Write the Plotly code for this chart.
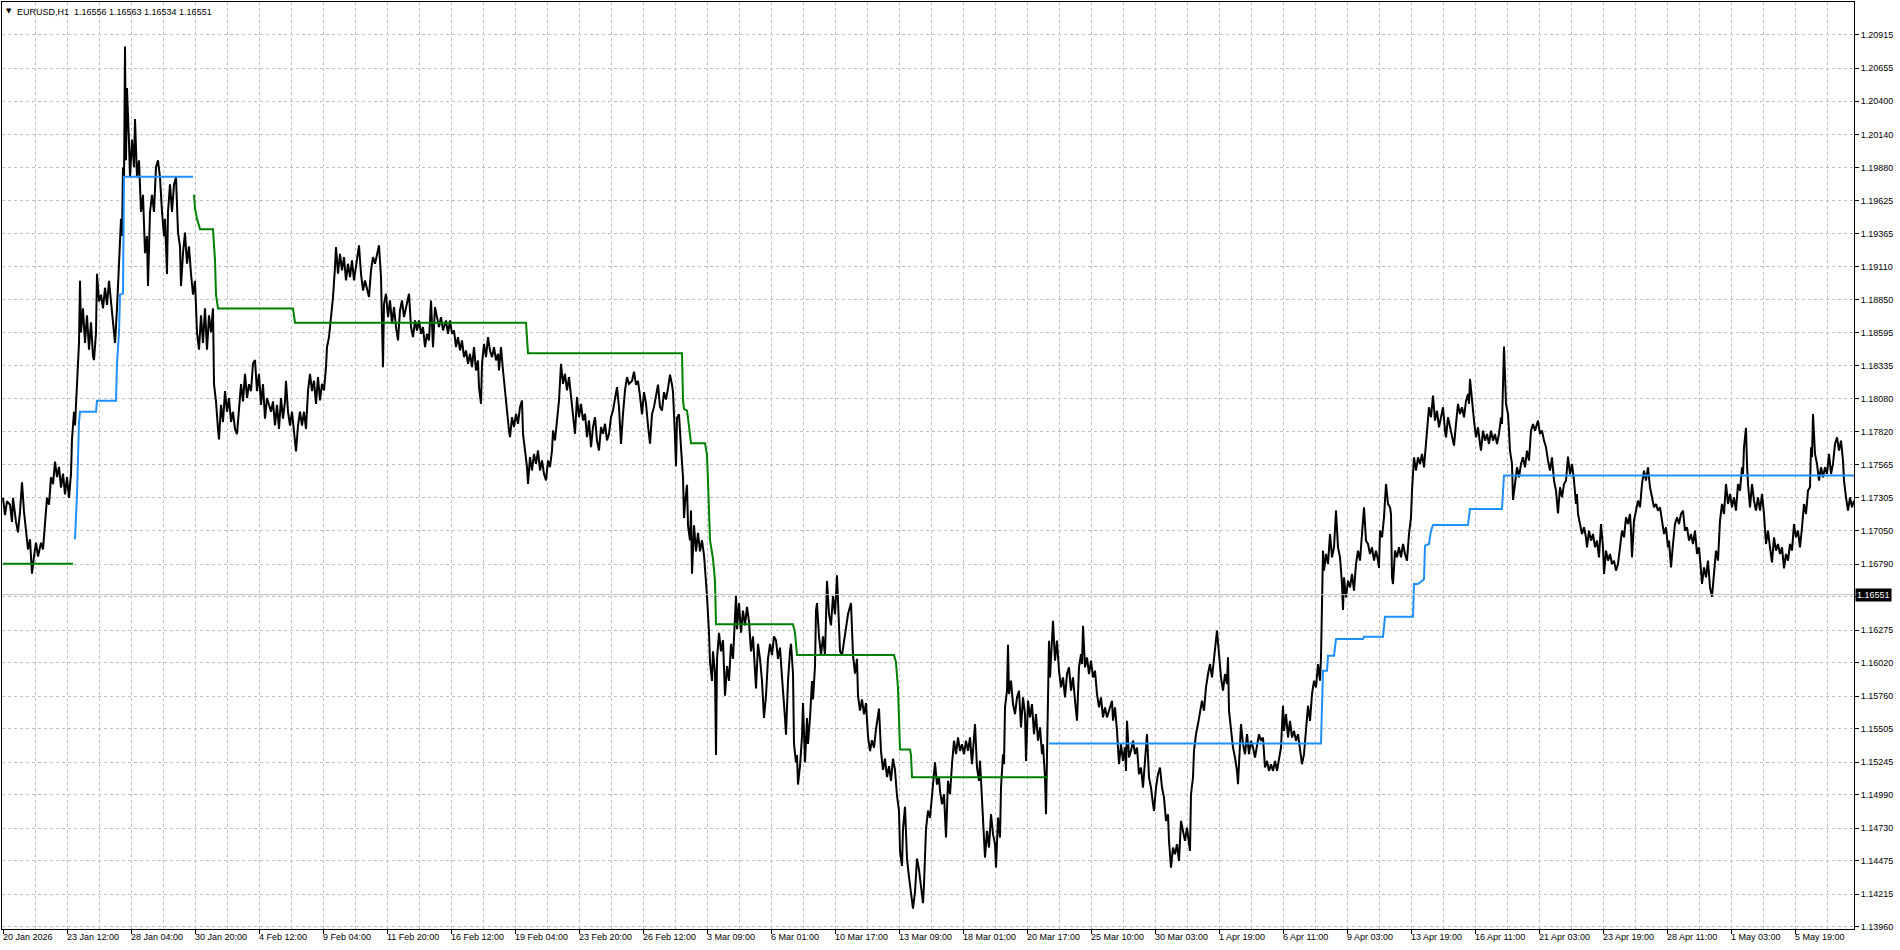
import plotly.graph_objects as go

# ---------------- data ----------------
SYMBOL = "EURUSD"
TIMEFRAME = "H1"
last_ohlc = [1.16556, 1.16563, 1.16534, 1.16551]
current_price = 1.16551

time_labels = ["20 Jan 2026", "23 Jan 12:00", "28 Jan 04:00", "30 Jan 20:00", "4 Feb 12:00",
               "9 Feb 04:00", "11 Feb 20:00", "16 Feb 12:00", "19 Feb 04:00", "23 Feb 20:00",
               "26 Feb 12:00", "3 Mar 09:00", "6 Mar 01:00", "10 Mar 17:00", "13 Mar 09:00",
               "18 Mar 01:00", "20 Mar 17:00", "25 Mar 10:00", "30 Mar 03:00", "1 Apr 19:00",
               "6 Apr 11:00", "9 Apr 03:00", "13 Apr 19:00", "16 Apr 11:00", "21 Apr 03:00",
               "23 Apr 19:00", "28 Apr 11:00", "1 May 03:00", "5 May 19:00"]
bars_per_label = 64
bars_per_grid = 32
n_bars = 1852

price_ticks = [1.20915, 1.20655, 1.20400, 1.20140, 1.19880, 1.19625, 1.19365, 1.19110,
               1.18850, 1.18595, 1.18335, 1.18080, 1.17820, 1.17565, 1.17305, 1.17050,
               1.16790, 1.16535, 1.16275, 1.16020, 1.15760, 1.15505, 1.15245, 1.14990,
               1.14730, 1.14475, 1.14215, 1.13960]
hidden_tick = 1.16535
price_min = 1.13944
price_max = 1.21172

# price path (bar index, price) following the highs and lows of the H1 bars
path_bar = [
    0, 2, 4, 7, 9, 10, 13, 15, 17, 19, 21, 23, 25, 27, 29, 31, 33, 35, 38, 40, 42, 44, 46, 48, 50,
    52, 54, 56, 58, 60, 62, 64, 66, 68, 69, 71, 72, 74, 75, 76, 77, 78, 80, 82, 84, 86, 88, 90, 91,
    93, 94, 96, 98, 100, 102, 104, 106, 108, 110, 112, 114, 116, 118, 119, 120, 121, 122, 123, 124,
    126, 127, 129, 131, 132, 134, 136, 138, 140, 142, 144, 145, 147, 149, 151, 153, 155, 157, 159,
    161, 162, 164, 165, 167, 169, 171, 173, 175, 177, 178, 180, 182, 184, 186, 188, 190, 192, 194,
    196, 198, 200, 202, 204, 206, 208, 210, 211, 213, 215, 216, 218, 220, 222, 224, 226, 228, 230,
    232, 234, 236, 238, 240, 242, 244, 246, 248, 250, 252, 254, 256, 258, 260, 262, 264, 266, 268,
    270, 272, 274, 276, 278, 280, 282, 283, 285, 287, 289, 291, 293, 295, 297, 299, 301, 303, 305,
    307, 309, 311,
    313, 315, 317, 319, 321, 323, 324, 326, 328, 330, 332, 333, 335, 337, 339, 341, 343, 345, 347,
    349, 351, 353, 355, 356, 358, 360, 362, 364, 366, 368, 370, 372, 374, 376, 378, 379, 380, 381,
    383, 385, 387, 389, 391, 393, 395, 397, 399, 401, 404, 406, 408, 410, 412, 414, 416, 418, 420,
    422, 424, 426, 428, 430, 432, 434, 436, 438, 440, 443, 445, 447, 449, 451, 453, 455, 457, 459,
    461, 463, 465, 467, 469, 471, 473, 475, 476, 478, 479, 481, 483, 485, 487, 489, 491, 493, 495,
    496, 498, 500, 502, 504, 506, 507, 509, 511, 513, 515, 517, 519, 520, 522, 524, 525, 527, 529,
    531, 533, 535, 537, 539, 541, 543, 545, 547, 549, 550, 552, 554, 556, 558, 560, 562, 564, 566,
    568, 570, 572, 574, 576, 578, 580, 582, 584, 586, 588, 590, 592, 594, 596, 598, 600, 602, 604,
    606, 608, 610, 612, 614, 616, 618, 620, 622, 624, 626,
    629, 631, 633, 635, 637, 639, 641, 643, 645, 647, 649, 651, 653, 655, 657, 659, 661, 663, 665,
    667, 669, 670, 672, 673, 674, 676, 678, 680, 681, 682, 684, 685, 687, 688, 689, 691, 693, 695,
    697, 699, 701, 703, 704, 706, 707, 709, 710, 712, 713, 714, 716, 718, 720, 722, 724, 726, 728,
    730, 731, 733, 734, 736, 738, 740, 742, 744, 746, 748, 750, 752, 753, 755, 757, 759, 760, 761,
    763, 765, 767, 769, 771, 773, 775, 777, 779, 780, 782, 783, 785, 787, 788, 790, 791, 793, 794,
    795, 797, 799, 800, 802, 804, 805, 807, 809, 810, 812, 813, 814, 816, 818, 820, 822, 823, 824,
    826, 828, 830, 832, 834, 836, 837, 839, 841, 843, 845, 848, 850, 852, 854, 855, 857, 859, 861,
    863, 865, 867, 869, 871, 873, 876, 878, 880, 882, 884, 886, 888, 890, 892, 894, 896, 897, 899,
    900, 902, 904, 906, 908, 910, 912, 914, 916, 918, 920, 921, 923, 925, 927, 929, 932, 934, 936,
    937, 939, 941, 943, 945, 947, 949, 951, 953, 955, 957, 959, 961, 963, 965, 967, 969, 970, 972,
    974, 976, 977, 979, 980, 982, 984, 986, 988, 990, 992, 993, 995, 997, 998, 1000, 1001, 1002,
    1004, 1005, 1006, 1008, 1010, 1012, 1014, 1016, 1018, 1020, 1022, 1023, 1025, 1027, 1029, 1031,
    1033, 1035, 1037, 1039, 1040, 1042, 1043, 1044, 1045, 1046, 1047, 1049, 1050, 1052, 1054, 1056,
    1058, 1060, 1062, 1064, 1066, 1068, 1070, 1072, 1074, 1076, 1078, 1079, 1080, 1082, 1084, 1086,
    1088, 1090, 1092, 1094, 1096, 1098, 1100, 1102, 1104, 1106, 1109, 1110, 1112, 1114, 1116, 1118,
    1120, 1122, 1123, 1124, 1126, 1128, 1130, 1132, 1134, 1136, 1138, 1140, 1142, 1144, 1146, 1148,
    1150, 1151, 1153, 1155, 1157, 1159, 1161, 1163, 1165, 1166, 1168, 1170, 1172, 1174, 1176, 1178,
    1180, 1182, 1184, 1186, 1187, 1188, 1190, 1191, 1193, 1195, 1197, 1199, 1201, 1203, 1205, 1207,
    1209, 1211, 1213, 1214, 1216, 1218, 1220, 1222, 1224, 1225, 1226, 1228, 1230, 1232, 1234, 1235,
    1237, 1238, 1240, 1242,
    1244, 1246, 1248, 1250, 1252, 1254, 1256, 1258, 1260, 1262, 1264, 1266, 1268, 1270, 1272, 1274,
    1276, 1278, 1280, 1281, 1283, 1285, 1287, 1289, 1291, 1293, 1295, 1297, 1299, 1301, 1303, 1305,
    1307, 1309, 1311, 1313, 1315, 1317, 1318, 1319, 1320, 1321, 1323, 1325, 1327, 1329, 1331, 1333,
    1335, 1337, 1339, 1340, 1341, 1343, 1345, 1347, 1349, 1351, 1353, 1355, 1357, 1359, 1361, 1363,
    1365, 1367, 1369, 1371, 1373, 1375, 1376, 1377, 1379, 1381, 1383, 1385, 1387, 1388, 1389, 1390,
    1392, 1394, 1396, 1398, 1400, 1402, 1404, 1406, 1408, 1409, 1411, 1413, 1415, 1417, 1419, 1421,
    1423, 1424, 1426, 1428, 1430, 1432, 1434, 1436, 1438, 1440, 1442, 1443, 1445, 1447, 1449, 1451,
    1453, 1455, 1457, 1459, 1461, 1463, 1465, 1466, 1467, 1469, 1471, 1473, 1475, 1477, 1478, 1480,
    1482, 1484, 1486, 1488, 1490, 1492, 1494, 1496, 1498, 1499, 1500, 1501, 1503, 1505, 1506, 1507,
    1509, 1510, 1512, 1514, 1516, 1518, 1520, 1522, 1524, 1526, 1528, 1530, 1532, 1535, 1537, 1539,
    1541, 1543, 1545, 1547, 1549, 1551, 1553, 1554, 1555, 1557, 1559, 1561,
    1563, 1565, 1567, 1569, 1571, 1573, 1574, 1575, 1577, 1579, 1581, 1583, 1584, 1586, 1588, 1590,
    1592, 1594, 1596, 1598, 1600, 1601, 1603, 1605, 1607, 1609, 1611, 1613, 1615, 1617, 1619, 1621,
    1623, 1625, 1627, 1628, 1629, 1631, 1633, 1635, 1637, 1639, 1641, 1643, 1645, 1647, 1649, 1651,
    1653, 1655, 1657, 1659, 1661, 1663, 1665, 1666, 1668, 1670, 1672, 1674, 1676, 1678, 1680, 1682,
    1684, 1686, 1688, 1690, 1692, 1694, 1696, 1698, 1699, 1701, 1703, 1705, 1707, 1709, 1711, 1713,
    1715, 1717, 1719, 1721, 1723, 1725, 1727, 1729, 1731, 1733, 1735, 1737, 1739, 1740, 1741, 1743,
    1744, 1745, 1747, 1749, 1751, 1753, 1755, 1757, 1759, 1761, 1763, 1765, 1767, 1769, 1771, 1773,
    1775, 1777, 1779, 1781, 1783, 1785, 1787, 1789, 1791, 1793, 1795, 1797, 1799, 1801, 1803, 1805,
    1807, 1808, 1809, 1810, 1812, 1814, 1816, 1818, 1820, 1822, 1824, 1826, 1828, 1830, 1832, 1834,
    1836, 1838, 1840, 1841, 1843, 1845, 1847, 1849, 1851]

path_price = [
    1.17306, 1.17171, 1.17279, 1.17252, 1.17118, 1.17306, 1.17118, 1.17037, 1.17198, 1.17427,
    1.17198, 1.17037, 1.16903, 1.16983, 1.16715, 1.16849, 1.16956, 1.16849, 1.16956, 1.16903,
    1.17118, 1.17306, 1.17252, 1.17467, 1.17413, 1.17588, 1.17467, 1.17547, 1.17386, 1.17494,
    1.17333, 1.17467, 1.17306, 1.17494, 1.17762, 1.17977, 1.17870, 1.18219, 1.18353, 1.18514,
    1.18998, 1.18595, 1.18783, 1.18514, 1.18729, 1.18461, 1.18675, 1.18407, 1.18380, 1.18595,
    1.19052, 1.18837, 1.18890, 1.18783, 1.18944, 1.18810, 1.18998, 1.18837, 1.18729, 1.18514,
    1.18783, 1.19132, 1.19481, 1.19347, 1.19884, 1.19750, 1.20824, 1.19938, 1.20502, 1.20072,
    1.19804, 1.20100, 1.19884, 1.20260, 1.19804, 1.19938, 1.19535, 1.19669, 1.19213, 1.19347,
    1.18957, 1.19535, 1.19669, 1.19535, 1.19884, 1.19938, 1.19804, 1.19535, 1.19347, 1.19481,
    1.19052, 1.19535, 1.19750, 1.19535, 1.19750, 1.19804, 1.19374, 1.19266, 1.18957, 1.19213,
    1.19374, 1.19132, 1.19266, 1.19052, 1.18890, 1.18998, 1.18595, 1.18461, 1.18729, 1.18514,
    1.18783, 1.18461, 1.18729, 1.18595, 1.18783, 1.18192, 1.18058, 1.17843, 1.17762, 1.18031,
    1.17897, 1.18138, 1.17977, 1.18084, 1.17897, 1.17977, 1.17843, 1.17803, 1.18031, 1.18192,
    1.18058, 1.18273, 1.18084, 1.18192, 1.18138, 1.18353, 1.18380, 1.18138, 1.18273, 1.18031,
    1.18192, 1.17923, 1.18084, 1.18031, 1.17977, 1.18058, 1.17870, 1.18031, 1.17843, 1.18084,
    1.17923, 1.18058, 1.18219, 1.17977, 1.17870, 1.17977, 1.17816, 1.17668, 1.17870, 1.17977,
    1.17870, 1.17977, 1.17843, 1.18138, 1.18273, 1.18138, 1.18219,
    1.18039, 1.18247, 1.18065, 1.18195, 1.18143, 1.18325, 1.18481, 1.18559, 1.18715, 1.18871,
    1.19105, 1.19261, 1.19053, 1.19209, 1.19079, 1.19183, 1.19001, 1.19131, 1.19027, 1.19157,
    1.19001, 1.19105, 1.19183, 1.19274, 1.19053, 1.18923, 1.19001, 1.18923, 1.18871, 1.19079,
    1.19183, 1.19131, 1.19209, 1.19274, 1.19027, 1.18611, 1.18325, 1.18819, 1.18897, 1.18715,
    1.18845, 1.18663, 1.18793, 1.18637, 1.18533, 1.18767, 1.18845, 1.18715, 1.18819, 1.18897,
    1.18637, 1.18559, 1.18689, 1.18611, 1.18689, 1.18585, 1.18637, 1.18481, 1.18585, 1.18533,
    1.18845, 1.18481, 1.18793, 1.18715, 1.18637, 1.18715, 1.18611, 1.18689, 1.18585, 1.18689,
    1.18585, 1.18611, 1.18481, 1.18559, 1.18455, 1.18533, 1.18403, 1.18455, 1.18351, 1.18429,
    1.18325, 1.18481, 1.18299, 1.18377, 1.18169, 1.18039, 1.18351, 1.18507, 1.18403, 1.18559,
    1.18455, 1.18403, 1.18481, 1.18377, 1.18429, 1.18299, 1.18481, 1.18299, 1.18143, 1.17935,
    1.17831, 1.17779, 1.17935, 1.17857, 1.17961, 1.17883, 1.18013, 1.18065, 1.17805, 1.17675,
    1.17545, 1.17415, 1.17623, 1.17519, 1.17649, 1.17571, 1.17675, 1.17519, 1.17597, 1.17493,
    1.17441, 1.17597, 1.17545, 1.17675, 1.17831, 1.17753, 1.17909, 1.18065, 1.18351, 1.18195,
    1.18273, 1.18143, 1.18247, 1.18091, 1.17961, 1.17805, 1.18091, 1.17935, 1.18039, 1.17909,
    1.17961, 1.17779, 1.17909, 1.17701, 1.17857, 1.17935, 1.17753, 1.17675, 1.17857, 1.17805,
    1.17883, 1.17753, 1.17805, 1.17935, 1.17987, 1.18091, 1.18169, 1.18013, 1.17727, 1.17961,
    1.18143, 1.18247, 1.18195,
    1.18217, 1.18289, 1.18188, 1.18217, 1.18101, 1.17957, 1.18130, 1.18043, 1.17870, 1.17728,
    1.17957, 1.18015, 1.18101, 1.18188, 1.18015, 1.17986, 1.18130, 1.18072, 1.18159, 1.18266,
    1.18188, 1.18130, 1.17783, 1.17553, 1.17928, 1.17957, 1.17697, 1.17466, 1.17148, 1.17264,
    1.17408, 1.17091, 1.16975, 1.17206, 1.16715, 1.17091, 1.16889, 1.17033, 1.16889, 1.16975,
    1.16860, 1.16658, 1.16542, 1.16254, 1.16023, 1.15878, 1.16109, 1.15936, 1.15301, 1.16051,
    1.16253, 1.16109, 1.16196, 1.15763, 1.15994, 1.15878, 1.16167, 1.16051, 1.16225, 1.16542,
    1.16282, 1.16485, 1.16254, 1.16427, 1.16311, 1.16456, 1.16340, 1.16109, 1.16225, 1.15936,
    1.15820, 1.16167, 1.16051, 1.15878, 1.15705, 1.15589, 1.15763, 1.16051, 1.16167, 1.16080,
    1.16225, 1.16196, 1.16051, 1.16138, 1.15907, 1.15820, 1.15589, 1.15459, 1.15878, 1.16109,
    1.16167, 1.15936, 1.15387, 1.15243, 1.15301, 1.15070, 1.15214, 1.15445, 1.15705, 1.15243,
    1.15589, 1.15387, 1.15589, 1.15878, 1.15734, 1.15994, 1.16427, 1.16485, 1.16225, 1.16080,
    1.16225, 1.16080, 1.16311, 1.16658, 1.16398, 1.16311, 1.16542, 1.16398, 1.16701, 1.16311,
    1.16109, 1.16080, 1.16196, 1.16282, 1.16398, 1.16485, 1.16080, 1.15936, 1.16051, 1.15763,
    1.15647, 1.15734, 1.15618, 1.15705, 1.15445, 1.15330, 1.15416, 1.15358, 1.15503, 1.15662,
    1.15330, 1.15185, 1.15272, 1.15128, 1.15214, 1.15099, 1.15272, 1.15185, 1.14983, 1.14868,
    1.14550, 1.14435, 1.14723, 1.14897, 1.14493, 1.14348, 1.14233, 1.14103, 1.14233, 1.14493,
    1.14406, 1.14261, 1.14146, 1.14290, 1.14723, 1.14868, 1.14810, 1.14983, 1.15243, 1.15070,
    1.15128,
    1.15021, 1.14917, 1.14995, 1.14657, 1.15099, 1.14995, 1.15229, 1.15412, 1.15307, 1.15438,
    1.15333, 1.15385, 1.15307, 1.15412, 1.15333, 1.15438, 1.15229, 1.15359, 1.15542, 1.15203,
    1.15099, 1.15255, 1.14917, 1.14787, 1.14501, 1.14709, 1.14579, 1.14839, 1.14683, 1.14605,
    1.14423, 1.14813, 1.14657, 1.15047, 1.15307, 1.15229, 1.15672, 1.15802, 1.16161, 1.15776,
    1.15880, 1.15698, 1.15620, 1.15750, 1.15802, 1.15516, 1.15750, 1.15620, 1.15255, 1.15724,
    1.15594, 1.15698, 1.15464, 1.15620, 1.15412, 1.15516, 1.15307, 1.15385, 1.15125, 1.14839,
    1.15307, 1.16010, 1.16192, 1.15906, 1.16270, 1.16348, 1.16036, 1.16192, 1.15958, 1.15828,
    1.15906, 1.15750, 1.15932, 1.15984, 1.15802, 1.15906, 1.15724, 1.15568, 1.15984, 1.16088,
    1.16010, 1.16309, 1.15984, 1.16062, 1.15932, 1.16036, 1.15906, 1.15958, 1.15776, 1.15672,
    1.15750, 1.15594, 1.15672, 1.15594, 1.15646, 1.15724, 1.15568, 1.15672, 1.15490, 1.15229,
    1.15385, 1.15255, 1.15359, 1.15177, 1.15568, 1.15281, 1.15333, 1.15412, 1.15307, 1.15359,
    1.15151, 1.15203, 1.15047, 1.15255, 1.15464, 1.15125, 1.15047, 1.14917, 1.14865, 1.15047,
    1.15151, 1.15203, 1.15047, 1.14969, 1.14787, 1.14839, 1.14631, 1.14423, 1.14579, 1.14527,
    1.14605, 1.14475, 1.14787, 1.14709, 1.14631, 1.14735, 1.14605, 1.14553, 1.14995, 1.15125,
    1.15333, 1.15464, 1.15542, 1.15620, 1.15724, 1.15646, 1.15828, 1.15932, 1.16010, 1.15906,
    1.16062, 1.16192, 1.16270, 1.16088, 1.15906, 1.15802, 1.15932, 1.15854, 1.16062, 1.15646,
    1.15490, 1.15359, 1.15281, 1.15177, 1.15073, 1.15333, 1.15542, 1.15385, 1.15307,
    1.15463, 1.15307, 1.15411, 1.15359, 1.15281, 1.15385, 1.15463, 1.15411, 1.15437, 1.15203,
    1.15255, 1.15177, 1.15229, 1.15177, 1.15255, 1.15177, 1.15281, 1.15359, 1.15685, 1.15489,
    1.15619, 1.15437, 1.15567, 1.15437, 1.15489, 1.15411, 1.15463, 1.15333, 1.15229, 1.15307,
    1.15489, 1.15685, 1.15567, 1.15776, 1.15880, 1.15828, 1.16010, 1.15880, 1.16062, 1.16660,
    1.16894, 1.16738, 1.16868, 1.16790, 1.17024, 1.16842, 1.16920, 1.17206, 1.16920, 1.16842,
    1.16634, 1.16431, 1.16686, 1.16530, 1.16660, 1.16608, 1.16712, 1.16582, 1.16790, 1.16894,
    1.16816, 1.17024, 1.17232, 1.16972, 1.16946, 1.16868, 1.16920, 1.16816, 1.16894, 1.16816,
    1.16759, 1.17050, 1.16998, 1.17154, 1.17414, 1.17258, 1.17232, 1.17180, 1.16686, 1.16634,
    1.16894, 1.16842, 1.16920, 1.16842, 1.16946, 1.16868, 1.16816, 1.17024, 1.17154, 1.17362,
    1.17622, 1.17518, 1.17622, 1.17570, 1.17648, 1.17544, 1.17726, 1.17882, 1.18012, 1.17934,
    1.18103, 1.17908, 1.17986, 1.17856, 1.17934, 1.18012, 1.17830, 1.17778, 1.17934, 1.17856,
    1.17804, 1.17713, 1.17882, 1.18038, 1.17960, 1.18012, 1.17934, 1.18064, 1.18116, 1.18038,
    1.18233, 1.18038, 1.17908, 1.17778, 1.17856, 1.17726, 1.17674, 1.17830, 1.17752, 1.17804,
    1.17726, 1.17830, 1.17752, 1.17804, 1.17726, 1.17804, 1.17934, 1.17882, 1.18220, 1.18486,
    1.18038, 1.17960, 1.17830, 1.17674, 1.17570, 1.17289, 1.17414, 1.17544, 1.17466, 1.17570,
    1.17622, 1.17544, 1.17674, 1.17596, 1.17830, 1.17882, 1.17830, 1.17908, 1.17804, 1.17830,
    1.17752, 1.17700, 1.17596, 1.17518, 1.17622, 1.17440, 1.17362, 1.17258, 1.17185, 1.17388,
    1.17310, 1.17414,
    1.17440, 1.17628, 1.17492, 1.17570, 1.17440, 1.17258, 1.17336, 1.17180, 1.17102, 1.17024,
    1.17076, 1.16998, 1.16920, 1.17050, 1.16972, 1.17024, 1.16920, 1.16972, 1.16842, 1.17102,
    1.16920, 1.16712, 1.16894, 1.16816, 1.16868, 1.16790, 1.16816, 1.16738, 1.16790, 1.16946,
    1.17050, 1.16998, 1.17154, 1.17102, 1.17180, 1.17050, 1.16842, 1.17128, 1.17206, 1.17284,
    1.17232, 1.17414, 1.17518, 1.17440, 1.17544, 1.17388, 1.17310, 1.17232, 1.17258, 1.17206,
    1.17232, 1.17128, 1.17024, 1.17076, 1.16920, 1.16972, 1.16764, 1.16946, 1.17102, 1.17154,
    1.17102, 1.17180, 1.17206, 1.17050, 1.17076, 1.16972, 1.17024, 1.16946, 1.17050, 1.16868,
    1.16920, 1.16738, 1.16634, 1.16764, 1.16686, 1.16816, 1.16608, 1.16535, 1.16712, 1.16894,
    1.16816, 1.17128, 1.17258, 1.17180, 1.17414, 1.17258, 1.17336, 1.17232, 1.17310, 1.17206,
    1.17414, 1.17362, 1.17544, 1.17492, 1.17700, 1.17851, 1.17570, 1.17414, 1.17232, 1.17414,
    1.17284, 1.17206, 1.17310, 1.17206, 1.17336, 1.17180, 1.16946, 1.17050, 1.16920, 1.16803,
    1.16998, 1.16894, 1.16946, 1.16868, 1.16920, 1.16756, 1.16868, 1.16816, 1.16946, 1.16894,
    1.17102, 1.16998, 1.17050, 1.16920, 1.17076, 1.17258, 1.17180, 1.17362, 1.17388, 1.17700,
    1.17622, 1.17960, 1.17648, 1.17570, 1.17440, 1.17544, 1.17466, 1.17544, 1.17492, 1.17648,
    1.17492, 1.17570, 1.17726, 1.17778, 1.17674, 1.17752, 1.17596, 1.17440, 1.17310, 1.17206,
    1.17310, 1.17232, 1.17284]

# trailing-stop style indicator: green (sell side) and blue (buy side) levels
green_bar = [0, 70, None, 191, 192, 194, 197, 210, 212, 213, 215, 290, 292, 523, 524, 525,
             679, 680, 681, 684, 685, 688, 702, 704, 705, 706, 707, 710, 712, 713, 790, 792,
             794, 891, 893, 895, 897, 907, 908, 909, 1045]
green_price = [1.16792, 1.16792, None, 1.19669, 1.19562, 1.19481, 1.19401, 1.19401, 1.19159,
               1.18890, 1.18783, 1.18783, 1.18672, 1.18672, 1.18520, 1.18434, 1.18434, 1.18072,
               1.18000, 1.17986, 1.17928, 1.17732, 1.17732, 1.17640, 1.17437, 1.17177, 1.16975,
               1.16831, 1.16658, 1.16320, 1.16320, 1.16253, 1.16080, 1.16080, 1.16023, 1.15820,
               1.15344, 1.15344, 1.15301, 1.15128, 1.15128]
blue_bar = [72, 73, 74, 76, 77, 93, 94, 113, 114, 116, 117, 120, 121, 190, None,
            1046, 1318, 1319, 1320, 1324, 1325, 1331, 1333, 1360, 1361, 1380, 1382, 1410, 1411,
            1415, 1421, 1422, 1426, 1428, 1430, 1465, 1467, 1499, 1501, 1851]
blue_price = [1.16983, 1.17145, 1.17333, 1.17897, 1.17977, 1.17977, 1.18063, 1.18063, 1.18353,
              1.18595, 1.18890, 1.18898, 1.19809, 1.19809, None,
              1.15390, 1.15390, 1.15685, 1.15958, 1.15958, 1.16075, 1.16075, 1.16205, 1.16205,
              1.16223, 1.16223, 1.16378, 1.16378, 1.16634, 1.16634, 1.16671, 1.16933, 1.16946,
              1.17050, 1.17094, 1.17094, 1.17219, 1.17219, 1.17480, 1.17480]

# ---------------- styles ----------------
FONT = "Tahoma, Liberation Sans, Arial, sans-serif"
GRID = "#c0c0c0"

label_bars = [i * bars_per_label for i in range(len(time_labels))]
minor_bars = [b + bars_per_grid for b in label_bars if b + bars_per_grid < n_bars]
price_text = ["" if abs(p - hidden_tick) < 1e-9 else f"{p:.5f}" for p in price_ticks]

fig = go.Figure()

fig.add_trace(go.Scatter(x=path_bar, y=path_price, mode="lines",
                         line=dict(color="#000000", width=2), hoverinfo="skip"))
fig.add_trace(go.Scatter(x=green_bar, y=green_price, mode="lines", connectgaps=False,
                         line=dict(color="#008000", width=2), hoverinfo="skip"))
fig.add_trace(go.Scatter(x=blue_bar, y=blue_price, mode="lines", connectgaps=False,
                         line=dict(color="#1e90ff", width=2), hoverinfo="skip"))
# current bid line
fig.add_trace(go.Scatter(x=[-1, n_bars - 1], y=[current_price, current_price], mode="lines",
                         line=dict(color="#c0c0c0", width=1), hoverinfo="skip"))

annotations = []
for b, t in zip(label_bars, time_labels):
    annotations.append(dict(x=b, y=0, xref="x", yref="paper", text=t, showarrow=False,
                            xanchor="left", yanchor="top", xshift=-2, yshift=-1,
                            font=dict(family=FONT, size=9, color="#000000")))
annotations.append(dict(x=1, y=current_price, xref="paper", yref="y",
                        text=f"{current_price:.5f}", showarrow=False, xanchor="left",
                        yanchor="middle", xshift=1, bgcolor="#000000", borderpad=1,
                        font=dict(family=FONT, size=9, color="#ffffff")))
annotations.append(dict(x=0, y=1, xref="paper", yref="paper", text="▼", showarrow=False,
                        xanchor="left", yanchor="top", xshift=2, yshift=-3,
                        font=dict(family="DejaVu Sans", size=7, color="#000000")))
header = f"{SYMBOL},{TIMEFRAME}  " + " ".join(f"{v:.5f}" for v in last_ohlc)
annotations.append(dict(x=0, y=1, xref="paper", yref="paper", text=header, showarrow=False,
                        xanchor="left", yanchor="top", xshift=13, yshift=-3,
                        font=dict(family=FONT, size=9, color="#000000")))

fig.update_layout(
    width=1900, height=950,
    margin=dict(l=2, r=46, t=2, b=21, pad=0),
    paper_bgcolor="#ffffff", plot_bgcolor="#ffffff",
    showlegend=False, hovermode=False,
    annotations=annotations,
    xaxis=dict(range=[-1, n_bars - 1], tickmode="array", tickvals=label_bars,
               showticklabels=False, ticks="outside", ticklen=4, tickcolor="#000000",
               showgrid=True, gridcolor=GRID, griddash="3px,3px", gridwidth=1,
               minor=dict(tickmode="array", tickvals=minor_bars, showgrid=True,
                          gridcolor=GRID, griddash="3px,3px", gridwidth=1, ticks=""),
               showline=True, linecolor="#000000", linewidth=1, mirror=True,
               zeroline=False, fixedrange=True),
    yaxis=dict(range=[price_min, price_max], side="right", tickmode="array",
               tickvals=price_ticks, ticktext=price_text, ticks="outside", ticklen=4,
               tickcolor="#000000", tickfont=dict(family=FONT, size=9, color="#000000"),
               showgrid=True, gridcolor=GRID, griddash="3px,3px", gridwidth=1,
               showline=True, linecolor="#000000", linewidth=1, mirror=True,
               zeroline=False, fixedrange=True),
)

fig.write_html("out.html", config={"displayModeBar": False},
               post_script="document.body.style.margin='0px';document.body.style.overflow='hidden';")
